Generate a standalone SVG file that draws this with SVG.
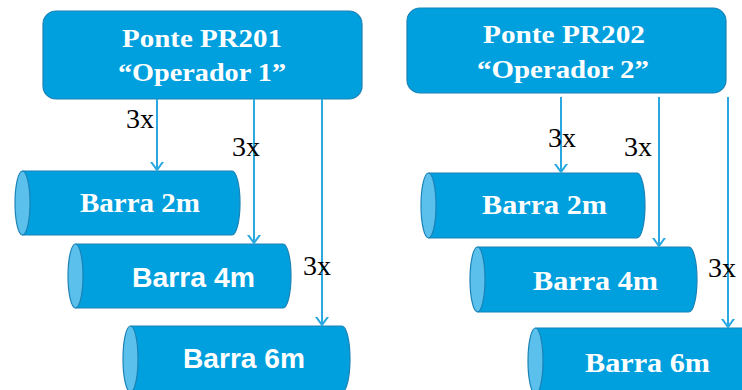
<svg xmlns="http://www.w3.org/2000/svg" width="742" height="390" viewBox="0 0 742 390">
  <style>
    .box { fill: #00a0de; stroke: #1a82b6; stroke-width: 1.2; }
    .bar { fill: #00a0de; stroke: #1a82b6; stroke-width: 1.2; }
    .cap { fill: #5cc0ec; stroke: #1a82b6; stroke-width: 1.2; }
    .title { font-family: "Liberation Serif", serif; font-weight: bold; font-size: 26px; fill: #ffffff; text-anchor: middle; }
    .lbl-serif { font-family: "Liberation Serif", serif; font-weight: bold; font-size: 27px; fill: #ffffff; }
    .lbl-sans { font-family: "Liberation Sans", Arial, sans-serif; font-weight: bold; font-size: 28px; fill: #ffffff; }
    .mult { font-family: "Liberation Serif", serif; font-size: 28px; fill: #000000; }
    .wire { stroke: #29a8e2; stroke-width: 2; fill: none; }
  </style>
  <defs>
    <marker id="vee" markerWidth="16" markerHeight="16" refX="8" refY="8" orient="auto" markerUnits="userSpaceOnUse">
      <path d="M-1,1.5 L8,8 L-1,14.5" fill="none" stroke="#29a8e2" stroke-width="2"/>
    </marker>
  </defs>

  <rect width="742" height="390" fill="#ffffff"/>

  <!-- Operator 1 -->
  <g id="ponte-pr201">
    <rect class="box" x="43" y="11" width="319" height="88" rx="13"/>
    <text class="title" x="202" y="47" textLength="160" lengthAdjust="spacingAndGlyphs">Ponte PR201</text>
    <text class="title" x="202" y="81" textLength="168" lengthAdjust="spacingAndGlyphs">“Operador 1”</text>
  </g>

  <g id="barra-2m-a">
    <path class="bar" d="M23,171 H232 A8,32 0 0 1 232,235 H23 Z"/>
    <ellipse class="cap" cx="22.5" cy="203" rx="7.5" ry="32"/>
    <text class="lbl-serif" x="80" y="212" textLength="120" lengthAdjust="spacingAndGlyphs">Barra 2m</text>
  </g>

  <g id="barra-4m-a">
    <path class="bar" d="M76,244 H283 A8,32 0 0 1 283,308 H76 Z"/>
    <ellipse class="cap" cx="75.5" cy="276" rx="7.5" ry="32"/>
    <text class="lbl-sans" x="132" y="287" textLength="123" lengthAdjust="spacingAndGlyphs">Barra 4m</text>
  </g>

  <g id="barra-6m-a">
    <path class="bar" d="M131,326 H342 A8,33 0 0 1 342,392 H131 Z"/>
    <ellipse class="cap" cx="130.5" cy="359" rx="7.5" ry="33"/>
    <text class="lbl-sans" x="183" y="368" textLength="122" lengthAdjust="spacingAndGlyphs">Barra 6m</text>
  </g>

  <!-- Operator 2 -->
  <g id="ponte-pr202">
    <rect class="box" x="407" y="8" width="319" height="85" rx="13"/>
    <text class="title" x="564" y="43" textLength="162" lengthAdjust="spacingAndGlyphs">Ponte PR202</text>
    <text class="title" x="563" y="78" textLength="172" lengthAdjust="spacingAndGlyphs">“Operador 2”</text>
  </g>

  <g id="barra-2m-b">
    <path class="bar" d="M429,173 H637 A8,32.5 0 0 1 637,238 H429 Z"/>
    <ellipse class="cap" cx="428.5" cy="205.5" rx="7.5" ry="32.5"/>
    <text class="lbl-serif" x="482" y="214" textLength="125" lengthAdjust="spacingAndGlyphs">Barra 2m</text>
  </g>

  <g id="barra-4m-b">
    <path class="bar" d="M478,247 H689 A8,32.5 0 0 1 689,312 H478 Z"/>
    <ellipse class="cap" cx="477.5" cy="279.5" rx="7.5" ry="32.5"/>
    <text class="lbl-serif" x="533" y="290" textLength="125" lengthAdjust="spacingAndGlyphs">Barra 4m</text>
  </g>

  <g id="barra-6m-b">
    <path class="bar" d="M536,328 H752 A8,33 0 0 1 752,394 H536 Z"/>
    <ellipse class="cap" cx="535.5" cy="361" rx="7.5" ry="33"/>
    <text class="lbl-serif" x="585" y="372" textLength="125" lengthAdjust="spacingAndGlyphs">Barra 6m</text>
  </g>

  <!-- connectors -->
  <g id="connectors">
    <line class="wire" x1="157" y1="99" x2="157" y2="170" marker-end="url(#vee)"/>
    <line class="wire" x1="254" y1="99" x2="254" y2="243" marker-end="url(#vee)"/>
    <line class="wire" x1="322" y1="99" x2="322" y2="325" marker-end="url(#vee)"/>
    <line class="wire" x1="561" y1="97" x2="561" y2="172" marker-end="url(#vee)"/>
    <line class="wire" x1="659" y1="97" x2="659" y2="246" marker-end="url(#vee)"/>
    <line class="wire" x1="728" y1="97" x2="728" y2="327" marker-end="url(#vee)"/>
  </g>

  <!-- multiplicities -->
  <g id="labels">
    <text class="mult" x="126" y="128">3x</text>
    <text class="mult" x="232" y="156">3x</text>
    <text class="mult" x="303" y="275" fill="#222">3x</text>
    <text class="mult" x="548" y="147">3x</text>
    <text class="mult" x="624" y="156">3x</text>
    <text class="mult" x="708" y="277" fill="#222">3x</text>
  </g>
</svg>
